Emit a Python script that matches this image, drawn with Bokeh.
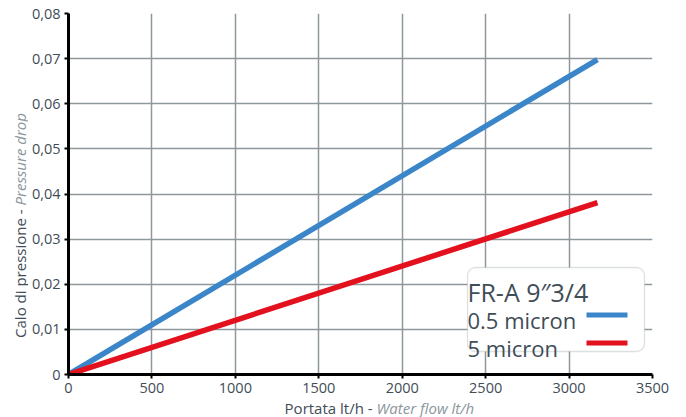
import math
from bokeh.plotting import figure
from bokeh.layouts import row, column
from bokeh.models import Range1d, FixedTicker, Label, BoxAnnotation
from bokeh.embed import file_html
from bokeh.resources import INLINE

# ---- data ----
flow = [0, 3170]
drop_05 = [0, 0.0698]
drop_5 = [0, 0.0381]
series_names = ["0.5 micron", "5 micron"]
legend_title = "FR-A 9\u20333/4"
x_ticks = [0, 500, 1000, 1500, 2000, 2500, 3000, 3500]
y_ticks = [0, 0.01, 0.02, 0.03, 0.04, 0.05, 0.06, 0.07, 0.08]
y_tick_labels = ["0", "0,01", "0,02", "0,03", "0,04", "0,05", "0,06", "0,07", "0,08"]
x_label_main = "Portata lt/h - "
x_label_it = "Water flow lt/h"
y_label_main = "Calo di pressione - "
y_label_it = "Pressure drop"

FONT = "Open Sans"
TXT = "#3f4d57"
TXT_IT = "#8b969c"
GRID = "#8e979b"
BLUE = "#3a86c8"
RED = "#e3101e"

W, H = 686, 417
LEFT_W = 28          # width of the y-label strip
MAIN_H = 399         # height of main chart canvas
# frame in page pixels
FX0, FX1, FY0, FY1 = 68, 652, 13, 374
XMAX, YMAX = 3500, 0.08


def px2x(px):
    return (px - FX0) * XMAX / (FX1 - FX0)


def px2y(py):
    return (FY1 - py) * YMAX / (FY1 - FY0)


# ---- main chart ----
p = figure(width=W - LEFT_W, height=MAIN_H, output_backend="svg", toolbar_location=None,
           x_range=Range1d(0, XMAX), y_range=Range1d(0, YMAX),
           min_border_left=FX0 - LEFT_W, min_border_right=W - FX1,
           min_border_top=FY0, min_border_bottom=MAIN_H - FY1)
p.outline_line_color = None

for ax in (p.xaxis[0], p.yaxis[0]):
    ax.axis_line_color = "black"
    ax.axis_line_width = 3
    ax.major_tick_line_color = "black"
    ax.major_tick_line_width = 2
    ax.major_tick_out = 4
    ax.major_tick_in = 0
    ax.minor_tick_line_color = None
    ax.major_label_text_font = FONT
    ax.major_label_text_font_size = "14.5px"
    ax.major_label_text_color = TXT
    ax.major_label_standoff = 4
p.xaxis.ticker = FixedTicker(ticks=x_ticks)
p.yaxis.ticker = FixedTicker(ticks=y_ticks)
p.yaxis.major_label_overrides = {t: l for t, l in zip(y_ticks, y_tick_labels)}

p.xgrid.ticker = FixedTicker(ticks=x_ticks[1:-1])
p.ygrid.ticker = FixedTicker(ticks=y_ticks[1:-1])
for g in (p.xgrid[0], p.ygrid[0]):
    g.grid_line_color = GRID
    g.grid_line_width = 1.5

p.line(flow, drop_05, line_color=BLUE, line_width=5.5)
p.line(flow, drop_5, line_color=RED, line_width=5.5)

# custom legend (title + entries, swatches on the right)
p.add_layout(BoxAnnotation(left=px2x(467), right=px2x(644), bottom=px2y(351), top=px2y(267),
                           fill_color="white", fill_alpha=1, line_color=GRID,
                           line_width=1.3, border_radius=8))
p.add_layout(Label(x=px2x(467), y=px2y(291), text=legend_title, text_baseline="alphabetic",
                   text_font=FONT, text_font_size="25px", text_color=TXT))
p.add_layout(Label(x=px2x(467), y=px2y(319), text=series_names[0], text_baseline="alphabetic",
                   text_font=FONT, text_font_size="22px", text_color=TXT))
p.add_layout(Label(x=px2x(467), y=px2y(347), text=series_names[1], text_baseline="alphabetic",
                   text_font=FONT, text_font_size="22px", text_color=TXT))
p.add_layout(BoxAnnotation(left=px2x(586), right=px2x(627), bottom=px2y(317), top=px2y(312),
                           fill_color=BLUE, fill_alpha=1, line_color=None))
p.add_layout(BoxAnnotation(left=px2x(586), right=px2x(627), bottom=px2y(345), top=px2y(340),
                           fill_color=RED, fill_alpha=1, line_color=None))

# ---- y-axis title strip (page pixel coordinates) ----
py = figure(width=LEFT_W, height=H, output_backend="svg", toolbar_location=None,
            x_range=Range1d(0, LEFT_W), y_range=Range1d(H, 0),
            x_axis_type=None, y_axis_type=None,
            min_border_left=0, min_border_right=0, min_border_top=0, min_border_bottom=0)
py.outline_line_color = None
py.add_layout(Label(x=19, y=205, text=y_label_main, text_align="right",
                    text_baseline="middle", angle=math.pi / 2, text_font=FONT,
                    text_font_size="15px", text_color=TXT))
py.add_layout(Label(x=19, y=205, text=y_label_it, text_align="left",
                    text_baseline="middle", angle=math.pi / 2, text_font=FONT,
                    text_font_size="15px", text_color=TXT_IT, text_font_style="italic"))

# ---- x-axis title strip (page pixel coordinates) ----
px_ = figure(width=W - LEFT_W, height=H - MAIN_H, output_backend="svg", toolbar_location=None,
             x_range=Range1d(LEFT_W, W), y_range=Range1d(H, MAIN_H),
             x_axis_type=None, y_axis_type=None,
             min_border_left=0, min_border_right=0, min_border_top=0, min_border_bottom=0)
px_.outline_line_color = None
px_.add_layout(Label(x=375, y=407, text=x_label_main, text_align="right",
                     text_baseline="middle", text_font=FONT, text_font_size="15px",
                     text_color=TXT))
px_.add_layout(Label(x=375, y=407, text=x_label_it, text_align="left",
                     text_baseline="middle", text_font=FONT, text_font_size="15px",
                     text_color=TXT_IT, text_font_style="italic"))

layout = row(py, column(p, px_, spacing=0), spacing=0)

open("out.html", "w").write(file_html(layout, INLINE))
